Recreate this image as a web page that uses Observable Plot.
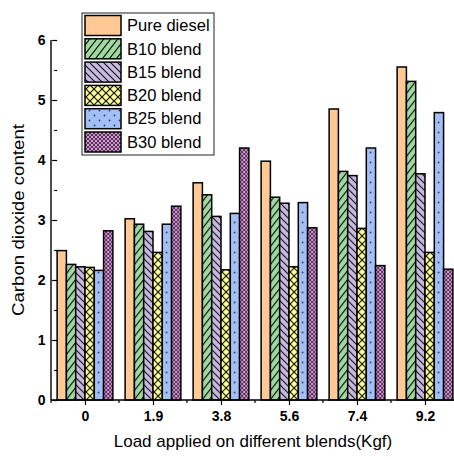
<!DOCTYPE html>
<html>
<head>
<meta charset="utf-8">
<script src="https://cdn.jsdelivr.net/npm/d3@7"></script>
<script src="https://cdn.jsdelivr.net/npm/@observablehq/plot@0.6"></script>
<style>
  html, body { margin: 0; padding: 0; background: #fff; overflow: hidden; }
  #chart { position: relative; width: 454px; height: 460px; overflow: hidden; }
  svg { font-family: Arial, "Liberation Sans", sans-serif; }
</style>
</head>
<body>
<div id="chart"></div>
<script>
const loads = ["0", "1.9", "3.8", "5.6", "7.4", "9.2"];
const series = ["Pure diesel", "B10 blend", "B15 blend", "B20 blend", "B25 blend", "B30 blend"];
const pureDiesel = [2.49, 3.02, 3.62, 3.98, 4.85, 5.55];
const b10 = [2.26, 2.93, 3.42, 3.38, 3.81, 5.31];
const b15 = [2.22, 2.81, 3.06, 3.28, 3.74, 3.77];
const b20 = [2.21, 2.46, 2.17, 2.22, 2.86, 2.46];
const b25 = [2.16, 2.93, 3.11, 3.29, 4.20, 4.79];
const b30 = [2.82, 3.23, 4.20, 2.87, 2.24, 2.18];
const yTicks = [0, 1, 2, 3, 4, 5, 6];
const yMinorTicks = [0.5, 1.5, 2.5, 3.5, 4.5, 5.5];
const xTitle = "Load applied on different blends(Kgf)";
const yTitle = "Carbon dioxide content";

const patternIds = ["pd", "b10", "b15", "b20", "b25", "b30"];
const allValues = [pureDiesel, b10, b15, b20, b25, b30];
const data = [];
series.forEach((s, i) => loads.forEach((l, j) => data.push({series: s, load: l, value: allValues[i][j], pid: patternIds[i]})));

const font = 'Arial, "Liberation Sans", sans-serif';

const chart = Plot.plot({
  width: 454,
  height: 460,
  marginLeft: 51,
  marginRight: -5,
  marginTop: 40,
  marginBottom: 60,
  style: {fontFamily: font, background: "white", overflow: "visible"},
  fx: {domain: loads, paddingInner: 0.18, paddingOuter: 0.09, round: false, label: null},
  x: {domain: series, padding: 0, round: false, axis: null},
  y: {domain: [0, 6], label: null},
  marks: [
    Plot.barY(data, {fx: "load", x: "series", y: "value", fill: d => `url(#pat-${d.pid})`, stroke: "black", strokeWidth: 1.5}),
    Plot.axisFx({anchor: "bottom", tickSize: 5, tickPadding: 6, fontWeight: "bold", fontSize: 14, label: null, stroke: "black", strokeWidth: 1.2}),
    Plot.axisY({ticks: yTicks, tickFormat: d3.format("d"), tickSize: 5, tickPadding: 7, fontWeight: "bold", fontSize: 14, label: null, stroke: "black", strokeWidth: 1.2}),
    Plot.axisY({ticks: yMinorTicks, tickSize: 3, tickFormat: () => "", label: null, stroke: "black", strokeWidth: 1.2})
  ]
});

const svg = d3.select(chart);
const defs = svg.insert("defs", ":first-child");

function pat(id, w, h, bg, draw) {
  const p = defs.append("pattern").attr("id", "pat-" + id).attr("patternUnits", "userSpaceOnUse").attr("width", w).attr("height", h);
  p.append("rect").attr("width", w).attr("height", h).attr("fill", bg);
  draw(p);
}
pat("pd", 8, 8, "#FFC995", () => {});
pat("b10", 7, 9, "#9FD99F", p => p.append("path").attr("d", "M0,9 L7,0 M-2,2.6 L2,-2.6 M5,11.6 L9,6.4").attr("stroke", "#111").attr("stroke-width", 1.1));
pat("b15", 7, 7, "#C8B9E0", p => p.append("path").attr("d", "M0,0 L7,7 M-2,5 L2,9 M5,-2 L9,2").attr("stroke", "#111").attr("stroke-width", 1.1));
pat("b20", 8, 8, "#FFFF99", p => p.append("path").attr("d", "M0,0 L8,8 M0,8 L8,0").attr("stroke", "#111").attr("stroke-width", 1.2));
pat("b25", 10, 10, "#A2C0F5", p => {
  p.append("circle").attr("cx", 2.5).attr("cy", 2.5).attr("r", 0.9).attr("fill", "#2b3f7a");
  p.append("circle").attr("cx", 7.5).attr("cy", 7.5).attr("r", 0.9).attr("fill", "#2b3f7a");
});
pat("b30", 4, 4, "#C384C3", p => {
  p.append("path").attr("d", "M0,0 L4,4 M0,4 L4,0").attr("stroke", "#3d1f3d").attr("stroke-width", 0.8);
  p.append("circle").attr("cx", 2).attr("cy", 0).attr("r", 0.7).attr("fill", "#f0d0f0");
  p.append("circle").attr("cx", 2).attr("cy", 4).attr("r", 0.7).attr("fill", "#f0d0f0");
});

// axis lines and minor x ticks, positioned from the library's scales
const fx = chart.scale("fx");
const ys = chart.scale("y");
const y0 = ys.apply(0), y6 = ys.apply(6);
const gap = fx.step - fx.bandwidth;
const left = fx.apply(loads[0]) - gap / 2;
const right = fx.apply(loads[loads.length - 1]) + fx.bandwidth + gap / 2;
const boundaries = [left].concat(loads.map(l => fx.apply(l) + fx.bandwidth + gap / 2));
const ax = svg.append("g").attr("stroke", "black").attr("stroke-width", 1.4);
ax.append("line").attr("x1", left).attr("x2", left).attr("y1", y6).attr("y2", y0);
ax.append("line").attr("x1", left).attr("x2", right).attr("y1", y0).attr("y2", y0);
ax.selectAll("line.minor").data(boundaries).join("line").attr("class", "minor")
  .attr("x1", d => d).attr("x2", d => d).attr("y1", y0).attr("y2", y0 + 3).attr("stroke-width", 1.2);

// axis titles
svg.append("text").attr("transform", `translate(18,${(y0 + y6) / 2}) rotate(-90)`)
  .attr("text-anchor", "middle").attr("dy", "0.35em").attr("font-size", 17).attr("font-family", font).attr("fill", "black")
  .attr("textLength", 192).attr("lengthAdjust", "spacingAndGlyphs").text(yTitle);
svg.append("text").attr("x", (left + right) / 2 - 2).attr("y", y0 + 41)
  .attr("text-anchor", "middle").attr("dy", "0.35em").attr("font-size", 17).attr("font-family", font).attr("fill", "black").text(xTitle);

// legend
const lg = svg.append("g").attr("transform", "translate(82,13)");
lg.append("rect").attr("x", 0).attr("y", 0).attr("width", 132).attr("height", 142).attr("fill", "white").attr("stroke", "#222").attr("stroke-width", 1);
series.forEach((s, i) => {
  const yy = 2.5 + i * 23.3;
  lg.append("rect").attr("x", 3).attr("y", yy).attr("width", 36).attr("height", 20)
    .attr("fill", `url(#pat-${patternIds[i]})`).attr("stroke", "black").attr("stroke-width", 1.5);
  lg.append("text").attr("x", 45).attr("y", yy + 10).attr("dy", "0.35em").attr("text-anchor", "start")
    .attr("font-size", 16.5).attr("font-family", font).attr("fill", "black").text(s);
});

document.getElementById("chart").appendChild(chart);
</script>
</body>
</html>
